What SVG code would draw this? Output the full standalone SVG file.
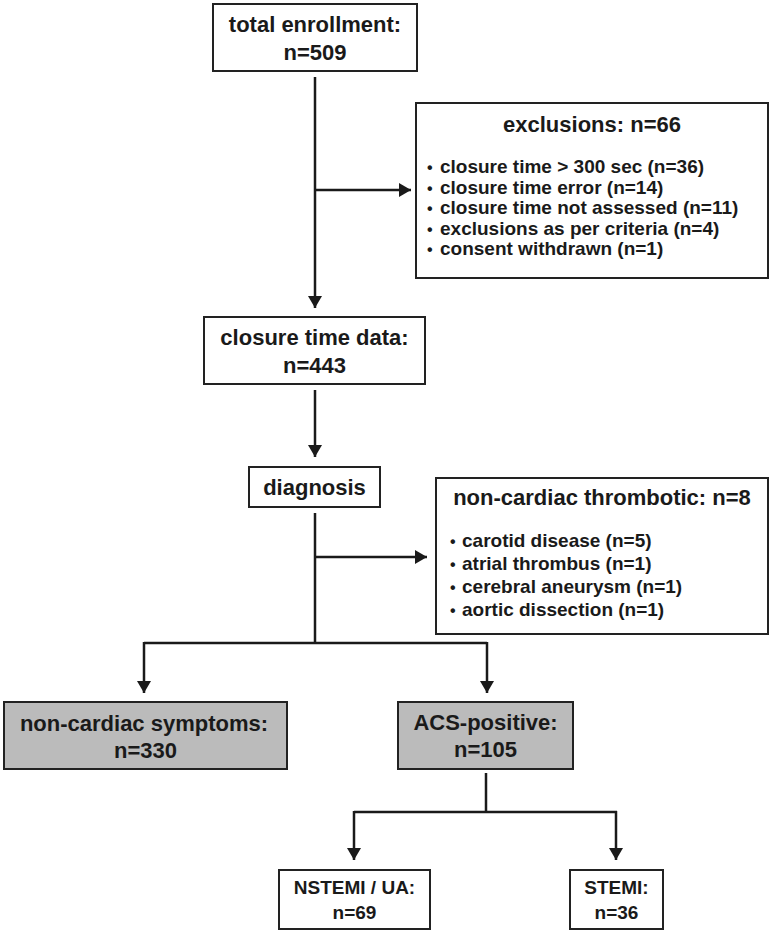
<svg xmlns="http://www.w3.org/2000/svg" width="773" height="934" viewBox="0 0 773 934">
<style>
.box{fill:#fff;stroke:#222;stroke-width:2}
.gray{fill:#bbbbbb;stroke:#222;stroke-width:2}
.t{font-family:"Liberation Sans",Arial,sans-serif;font-weight:bold;font-size:22px;fill:#1a1a1a;text-anchor:middle}
.s{font-family:"Liberation Sans",Arial,sans-serif;font-weight:bold;font-size:19px;fill:#1a1a1a}
.b{font-size:16px}
.m{font-size:19px}
.c{fill:none;stroke:#1a1a1a;stroke-width:2.5}
</style>
<defs>
<marker id="ah" markerUnits="userSpaceOnUse" markerWidth="12" markerHeight="14" refX="12" refY="7" orient="auto">
<path d="M0,0 L12,7 L0,14 z" fill="#1a1a1a"/>
</marker>
</defs>
<g id="connectors">
<path class="c" d="M315,77 V308" marker-end="url(#ah)"/>
<path class="c" d="M315,190 H411" marker-end="url(#ah)"/>
<path class="c" d="M315,390 V457" marker-end="url(#ah)"/>
<path class="c" d="M315,513 V643"/>
<path class="c" d="M315,557 H427" marker-end="url(#ah)"/>
<path class="c" d="M144,643 H487"/>
<path class="c" d="M144,642 V693" marker-end="url(#ah)"/>
<path class="c" d="M487,642 V693" marker-end="url(#ah)"/>
<path class="c" d="M486,773 V812"/>
<path class="c" d="M354,812 H617"/>
<path class="c" d="M354,811 V860" marker-end="url(#ah)"/>
<path class="c" d="M616,811 V860" marker-end="url(#ah)"/>
</g>
<g id="total">
<rect class="box" x="213" y="4" width="204" height="67"/>
<text class="t" x="315" y="32">total enrollment:</text>
<text class="t" x="315" y="60">n=509</text>
</g>
<g id="exclusions">
<rect class="box" x="416" y="103" width="352" height="175"/>
<text class="t" x="592" y="132">exclusions: n=66</text>
<text class="s" x="427" y="173"><tspan class="b">•</tspan><tspan x="440">closure time &gt; 300 sec (n=36)</tspan></text>
<text class="s" x="427" y="193.5"><tspan class="b">•</tspan><tspan x="440">closure time error (n=14)</tspan></text>
<text class="s" x="427" y="214"><tspan class="b">•</tspan><tspan x="440">closure time not assessed (n=11)</tspan></text>
<text class="s" x="427" y="234.5"><tspan class="b">•</tspan><tspan x="440">exclusions as per criteria (n=4)</tspan></text>
<text class="s" x="427" y="255"><tspan class="b">•</tspan><tspan x="440">consent withdrawn (n=1)</tspan></text>
</g>
<g id="closure">
<rect class="box" x="204" y="317" width="221" height="67"/>
<text class="t" x="314.5" y="345">closure time data:</text>
<text class="t" x="314.5" y="373">n=443</text>
</g>
<g id="diagnosis">
<rect class="box" x="249" y="467" width="131" height="40"/>
<text class="t" x="314.5" y="495">diagnosis</text>
</g>
<g id="thrombotic">
<rect class="box" x="436" y="478" width="332" height="156"/>
<text class="t" x="602" y="505">non-cardiac thrombotic: n=8</text>
<text class="s" x="450" y="547"><tspan class="b">•</tspan><tspan x="462">carotid disease (n=5)</tspan></text>
<text class="s" x="450" y="570"><tspan class="b">•</tspan><tspan x="462">atrial thrombus (n=1)</tspan></text>
<text class="s" x="450" y="593"><tspan class="b">•</tspan><tspan x="462">cerebral aneurysm (n=1)</tspan></text>
<text class="s" x="450" y="616"><tspan class="b">•</tspan><tspan x="462">aortic dissection (n=1)</tspan></text>
</g>
<g id="noncardiac">
<rect class="gray" x="4" y="702" width="283" height="67"/>
<text class="t" x="144" y="731">non-cardiac symptoms:</text>
<text class="t" x="145.5" y="758">n=330</text>
</g>
<g id="acs">
<rect class="gray" x="398" y="702" width="175" height="67"/>
<text class="t" x="485.5" y="730">ACS-positive:</text>
<text class="t" x="485.5" y="757">n=105</text>
</g>
<g id="nstemi">
<rect class="box" x="279" y="870" width="151" height="59"/>
<text class="t m" x="354.5" y="894">NSTEMI / UA:</text>
<text class="t m" x="354.5" y="919">n=69</text>
</g>
<g id="stemi">
<rect class="box" x="570" y="870" width="93" height="59"/>
<text class="t m" x="616.5" y="894">STEMI:</text>
<text class="t m" x="616.5" y="919">n=36</text>
</g>
</svg>
